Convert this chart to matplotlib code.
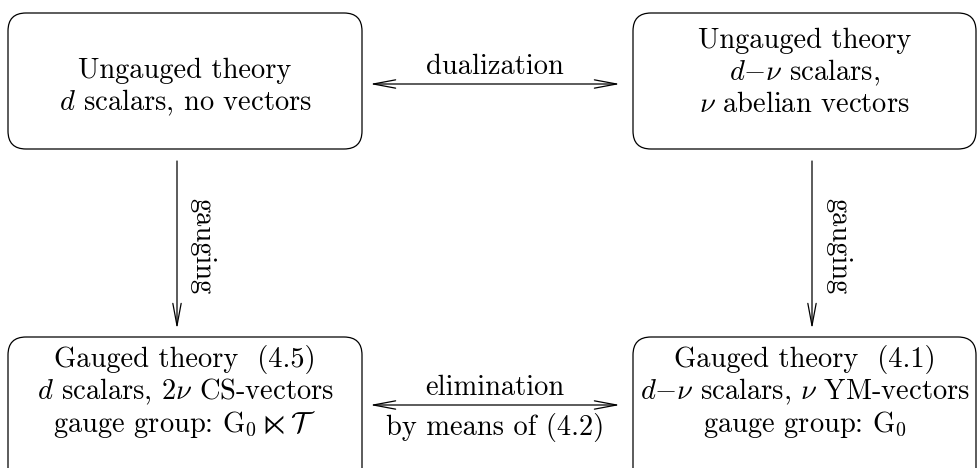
import matplotlib
matplotlib.use('Agg')
import matplotlib.pyplot as plt
from matplotlib.patches import FancyBboxPatch

plt.rcParams['font.family'] = 'serif'
plt.rcParams['font.serif'] = ['cmr10']
plt.rcParams['mathtext.fontset'] = 'cm'

# boxes: (left, top, right, bottom) in pixels, y of first text line, text lines
box_edges = [(8, 13, 362, 149), (633, 13, 976, 149),
             (8, 337, 362, 490), (633, 337, 976, 490)]
box_first_line = [71, 41, 360, 360]
box_lines = [
    ["Ungauged theory", r"$d$ scalars, no vectors"],
    ["Ungauged theory", r"$d{-}\nu$ scalars,", r"$\nu$ abelian vectors"],
    ["Gauged theory  (4.5)", r"$d$ scalars, $2\nu$ CS-vectors",
     r"gauge group: $\mathrm{G}_0\ltimes\mathcal{T}$"],
    ["Gauged theory  (4.1)", r"$d{-}\nu$ scalars, $\nu$ YM-vectors",
     r"gauge group: $\mathrm{G}_0$"],
]
line_gap = 32

# arrows: (x0, y0, x1, y1, style)
arrows = [(370, 84, 620, 84, '<->'), (370, 405, 620, 405, '<->'),
          (177, 161, 177, 329, '->'), (812, 161, 812, 329, '->')]
arrow_labels = [(495, 67, "dualization", 0), (495, 388, "elimination", 0),
                (495, 427, "by means of (4.2)", 0),
                (202, 246, "gauging", -90), (838, 246, "gauging", -90)]

fig = plt.figure(figsize=(9.77, 4.68), dpi=100)
ax = fig.add_axes([0, 0, 1, 1])
ax.set_xlim(0, 977)
ax.set_ylim(468, 0)
ax.axis('off')

fs = 20.5
for (l, t, r, b), y0, lines in zip(box_edges, box_first_line, box_lines):
    ax.add_patch(FancyBboxPatch((l, t), r - l, b - t,
                                boxstyle='round,pad=0,rounding_size=18',
                                fill=False, lw=0.9, ec='black'))
    cx = (l + r) / 2
    for i, s in enumerate(lines):
        ax.text(cx, y0 + i * line_gap, s, ha='center', va='center', fontsize=fs)

for x0, y0, x1, y1, st in arrows:
    ax.annotate('', xy=(x1, y1), xytext=(x0, y0),
                arrowprops=dict(arrowstyle=st + ',head_length=1.6,head_width=0.3',
                                lw=0.9, color='black', shrinkA=0, shrinkB=0))

for x, y, s, rot in arrow_labels:
    ax.text(x, y, s, ha='center', va='center', fontsize=fs, rotation=rot)

fig.savefig('out.png', dpi=100)
